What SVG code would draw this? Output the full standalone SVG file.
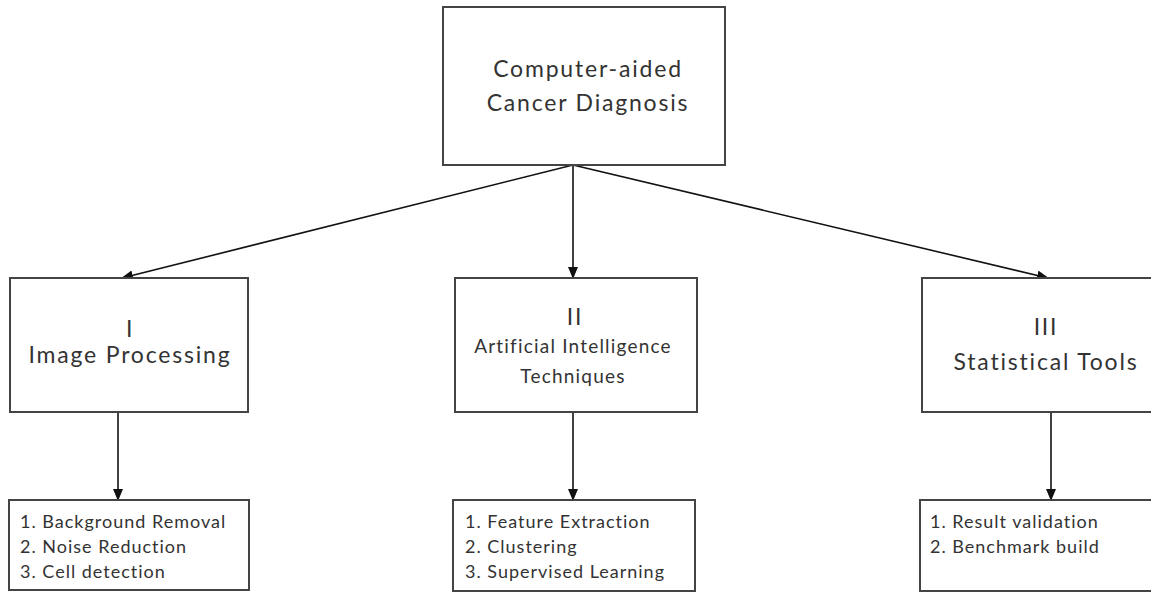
<svg xmlns="http://www.w3.org/2000/svg" width="1151" height="595" viewBox="0 0 1151 595">
<defs>
<marker id="ah" markerWidth="12" markerHeight="10" refX="11" refY="5" orient="auto" markerUnits="userSpaceOnUse">
<path d="M0,0 L12,5 L0,10 Z" fill="#111"/>
</marker>
<style>
.box{fill:#fff;stroke:#444;stroke-width:2}
.t{font-family:Lato,"Open Sans",sans-serif;fill:#333;text-anchor:middle}
.big{font-size:23px;letter-spacing:1.8px}
.mid{font-size:19px;letter-spacing:1.2px}
.list{font-family:Lato,"Open Sans",sans-serif;fill:#333;font-size:18px;letter-spacing:1px}
.c{stroke:#111;stroke-width:1.6;fill:none;marker-end:url(#ah)}
</style>
</defs>
<rect width="1151" height="595" fill="#fff"/>
<g id="connectors">
<line class="c" x1="573" y1="165" x2="122" y2="278"/>
<line class="c" x1="573" y1="165" x2="573" y2="278"/>
<line class="c" x1="573" y1="165" x2="1048" y2="278"/>
<line class="c" x1="118" y1="412" x2="118" y2="500"/>
<line class="c" x1="573" y1="412" x2="573" y2="500"/>
<line class="c" x1="1051" y1="412" x2="1051" y2="500"/>
</g>
<g id="root">
<rect class="box" x="443" y="7" width="282" height="158"/>
<text class="t big" x="588" y="77">Computer-aided</text>
<text class="t big" x="588" y="111">Cancer Diagnosis</text>
</g>
<g id="image-processing">
<rect class="box" x="10" y="278" width="238" height="134"/>
<text class="t big" x="130" y="337">I</text>
<text class="t big" x="130" y="363">Image Processing</text>
</g>
<g id="ai-techniques">
<rect class="box" x="455" y="278" width="242" height="134"/>
<text class="t big" x="575" y="325">II</text>
<text class="t mid" x="573" y="353">Artificial Intelligence</text>
<text class="t mid" x="573" y="383">Techniques</text>
</g>
<g id="statistical-tools">
<rect class="box" x="922" y="278" width="240" height="134"/>
<text class="t big" x="1046" y="335">III</text>
<text class="t big" x="1046" y="370">Statistical Tools</text>
</g>
<g id="ip-list">
<rect class="box" x="9" y="500" width="240" height="90"/>
<text class="list" x="20" y="528">1. Background Removal</text>
<text class="list" x="20" y="553">2. Noise Reduction</text>
<text class="list" x="20" y="578">3. Cell detection</text>
</g>
<g id="ai-list">
<rect class="box" x="453" y="500" width="242" height="91"/>
<text class="list" x="465" y="528">1. Feature Extraction</text>
<text class="list" x="465" y="553">2. Clustering</text>
<text class="list" x="465" y="578">3. Supervised Learning</text>
</g>
<g id="st-list">
<rect class="box" x="920" y="500" width="240" height="91"/>
<text class="list" x="930" y="528">1. Result validation</text>
<text class="list" x="930" y="553">2. Benchmark build</text>
</g>
</svg>
